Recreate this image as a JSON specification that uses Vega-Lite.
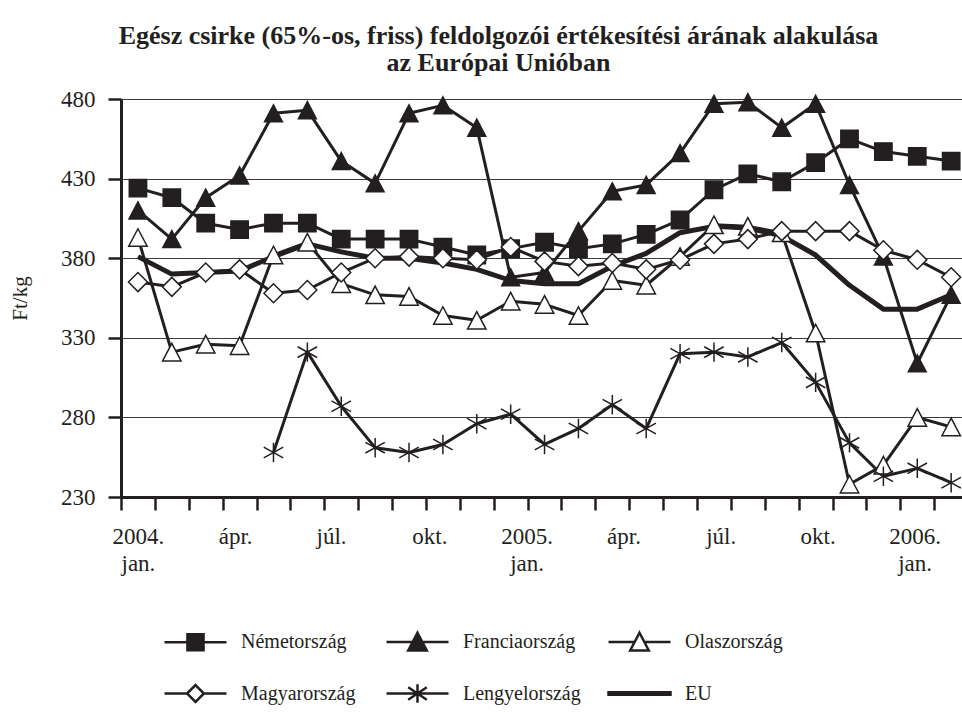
{
  "$schema": "https://vega.github.io/schema/vega-lite/v6.json",
  "width": 841,
  "height": 398,
  "autosize": "none",
  "padding": {"left": 121, "top": 99, "right": 0, "bottom": 215},
  "background": "white",
  "config": {
    "view": {"stroke": null},
    "font": "Liberation Serif"
  },
  "title": {
    "text": ["Egész csirke (65%-os, friss) feldolgozói értékesítési árának alakulása", "az Európai Unióban"],
    "font": "Liberation Serif",
    "fontSize": 26,
    "fontWeight": "bold",
    "color": "#231f20",
    "anchor": "middle",
    "dx": -43,
    "offset": 12,
    "lineHeight": 27
  },
  "data": {
    "values": [
      {"i": 0, "Németország": 424, "Franciaország": 410, "Olaszország": 393, "Magyarország": 365, "EU": 381},
      {"i": 1, "Németország": 418, "Franciaország": 392, "Olaszország": 321, "Magyarország": 362, "EU": 370},
      {"i": 2, "Németország": 402, "Franciaország": 418, "Olaszország": 326, "Magyarország": 371, "EU": 371},
      {"i": 3, "Németország": 398, "Franciaország": 432, "Olaszország": 325, "Magyarország": 373, "EU": 372},
      {"i": 4, "Németország": 402, "Franciaország": 471, "Olaszország": 382, "Magyarország": 358, "Lengyelország": 258, "EU": 381},
      {"i": 5, "Németország": 402, "Franciaország": 473, "Olaszország": 390, "Magyarország": 360, "Lengyelország": 321, "EU": 389},
      {"i": 6, "Németország": 392, "Franciaország": 441, "Olaszország": 364, "Magyarország": 371, "Lengyelország": 287, "EU": 384},
      {"i": 7, "Németország": 392, "Franciaország": 427, "Olaszország": 357, "Magyarország": 380, "Lengyelország": 261, "EU": 380},
      {"i": 8, "Németország": 392, "Franciaország": 471, "Olaszország": 356, "Magyarország": 381, "Lengyelország": 258, "EU": 380},
      {"i": 9, "Németország": 387, "Franciaország": 476, "Olaszország": 344, "Magyarország": 380, "Lengyelország": 263, "EU": 377},
      {"i": 10, "Németország": 382, "Franciaország": 462, "Olaszország": 341, "Magyarország": 379, "Lengyelország": 276, "EU": 373},
      {"i": 11, "Németország": 386, "Franciaország": 368, "Olaszország": 353, "Magyarország": 387, "Lengyelország": 282, "EU": 366},
      {"i": 12, "Németország": 390, "Franciaország": 371, "Olaszország": 351, "Magyarország": 378, "Lengyelország": 263, "EU": 364},
      {"i": 13, "Németország": 386, "Franciaország": 397, "Olaszország": 344, "Magyarország": 375, "Lengyelország": 273, "EU": 364},
      {"i": 14, "Németország": 389, "Franciaország": 422, "Olaszország": 366, "Magyarország": 377, "Lengyelország": 288, "EU": 375},
      {"i": 15, "Németország": 395, "Franciaország": 426, "Olaszország": 363, "Magyarország": 373, "Lengyelország": 273, "EU": 383},
      {"i": 16, "Németország": 404, "Franciaország": 446, "Olaszország": 381, "Magyarország": 379, "Lengyelország": 320, "EU": 396},
      {"i": 17, "Németország": 423, "Franciaország": 477, "Olaszország": 401, "Magyarország": 389, "Lengyelország": 321, "EU": 400},
      {"i": 18, "Németország": 433, "Franciaország": 478, "Olaszország": 400, "Magyarország": 392, "Lengyelország": 318, "EU": 399},
      {"i": 19, "Németország": 428, "Franciaország": 462, "Olaszország": 396, "Magyarország": 397, "Lengyelország": 327, "EU": 394},
      {"i": 20, "Németország": 440, "Franciaország": 477, "Olaszország": 333, "Magyarország": 397, "Lengyelország": 302, "EU": 382},
      {"i": 21, "Németország": 455, "Franciaország": 426, "Olaszország": 238, "Magyarország": 397, "Lengyelország": 264, "EU": 363},
      {"i": 22, "Németország": 447, "Franciaország": 381, "Olaszország": 250, "Magyarország": 385, "Lengyelország": 243, "EU": 348},
      {"i": 23, "Németország": 444, "Franciaország": 314, "Olaszország": 280, "Magyarország": 379, "Lengyelország": 248, "EU": 348},
      {"i": 24, "Németország": 441, "Franciaország": 357, "Olaszország": 274, "Magyarország": 368, "Lengyelország": 239, "EU": 357}
    ]
  },
  "transform": [
    {"fold": ["Németország", "Franciaország", "Olaszország", "Magyarország", "Lengyelország", "EU"], "as": ["c", "v"]},
    {"filter": "isValid(datum.v)"}
  ],
  "encoding": {
    "x": {"field": "i", "type": "quantitative", "scale": {"domain": [-0.5, 24.32], "nice": false, "zero": false}},
    "y": {"field": "v", "type": "quantitative", "scale": {"domain": [230, 480], "nice": false, "zero": false}}
  },
  "resolve": {
    "axis": {"x": "independent"},
    "scale": {"shape": "independent", "fill": "independent"},
    "legend": {"shape": "independent", "fill": "independent"}
  },
  "layer": [
    {
      "transform": [{"filter": "datum.c == 'EU'"}],
      "mark": {"type": "line", "stroke": "#231f20", "strokeWidth": 5, "strokeJoin": "round"},
      "encoding": {
        "x": {
          "field": "i", "type": "quantitative",
          "axis": {
            "values": [-0.5, 0.5, 1.5, 2.5, 3.5, 4.5, 5.5, 6.5, 7.5, 8.5, 9.5, 10.5, 11.5, 12.5, 13.5, 14.5, 15.5, 16.5, 17.5, 18.5, 19.5, 20.5, 21.5, 22.5, 23.5],
            "labels": false, "grid": false, "title": null,
            "domain": true, "domainColor": "#231f20", "domainWidth": 3,
            "ticks": true, "tickSize": 13, "tickWidth": 2.5, "tickColor": "#231f20"
          }
        },
        "y": {
          "field": "v", "type": "quantitative",
          "axis": {
            "values": [230, 280, 330, 380, 430, 480],
            "title": "Ft/kg", "titleFont": "Liberation Serif", "titleFontSize": 21, "titleFontWeight": "normal", "titleColor": "#231f20", "titlePadding": 30,
            "labelFont": "Liberation Serif", "labelFontSize": 23, "labelColor": "#231f20", "labelPadding": 13,
            "grid": true, "gridColor": "#3a3a3a", "gridWidth": 1.2,
            "domain": true, "domainColor": "#231f20", "domainWidth": 3,
            "ticks": true, "tickSize": 13, "tickWidth": 2.5, "tickColor": "#231f20"
          }
        }
      }
    },
    {
      "transform": [{"filter": "datum.c != 'EU'"}],
      "mark": {"type": "line", "stroke": "#231f20", "strokeWidth": 3, "strokeJoin": "round"},
      "encoding": {
        "detail": {"field": "c"},
        "x": {"field": "i", "type": "quantitative", "axis": null}
      }
    },
    {
      "transform": [{"filter": "datum.c != 'EU'"}],
      "mark": {"type": "point", "filled": true, "stroke": "#231f20", "strokeWidth": 1.5, "opacity": 1},
      "encoding": {
        "x": {"field": "i", "type": "quantitative", "axis": null},
        "shape": {
          "field": "c", "type": "nominal", "legend": null,
          "scale": {
            "domain": ["Németország", "Franciaország", "Olaszország", "Magyarország", "Lengyelország", "EU"],
            "range": ["square", "M0,-0.95L1,0.95L-1,0.95Z", "M0,-0.95L1,0.95L-1,0.95Z", "diamond", "M0,-1V1M-1,-0.55L1,0.55M-1,0.55L1,-0.55", "circle"]
          }
        },
        "fill": {
          "field": "c", "type": "nominal", "legend": null,
          "scale": {
            "domain": ["Németország", "Franciaország", "Olaszország", "Magyarország", "Lengyelország", "EU"],
            "range": ["#231f20", "#231f20", "#ffffff", "#ffffff", "rgba(0,0,0,0)", "#231f20"]
          }
        },
        "size": {
          "field": "c", "type": "nominal", "legend": null,
          "scale": {
            "domain": ["Németország", "Franciaország", "Olaszország", "Magyarország", "Lengyelország", "EU"],
            "range": [300, 400, 400, 330, 441, 100]
          }
        }
      }
    },
    {
      "mark": {"type": "point", "filled": true, "opacity": 0, "stroke": "#231f20", "strokeWidth": 2.5},
      "encoding": {
        "x": {
          "field": "i", "type": "quantitative",
          "axis": {
            "orient": "bottom",
            "values": [0, 2.87, 5.7, 8.6, 11.47, 14.33, 17.2, 20.06, 22.92],
            "labelExpr": "datum.value < 1 ? ['2004.', 'jan.'] : datum.value < 4 ? 'ápr.' : datum.value < 7 ? 'júl.' : datum.value < 10 ? 'okt.' : datum.value < 13 ? ['2005.', 'jan.'] : datum.value < 16 ? 'ápr.' : datum.value < 19 ? 'júl.' : datum.value < 21 ? 'okt.' : ['2006.', 'jan.']",
            "labelFont": "Liberation Serif", "labelFontSize": 23, "labelColor": "#231f20",
            "labelPadding": 28, "labelBaseline": "top", "labelLineHeight": 27, "labelAngle": 0,
            "labelAlign": "center", "labelOverlap": false, "labelBound": false, "labelFlush": false,
            "domain": false, "ticks": false, "grid": false, "title": null
          }
        },
        "shape": {
          "field": "c", "type": "nominal",
          "scale": {
            "domain": ["Németország", "Franciaország", "Olaszország", "Magyarország", "Lengyelország", "EU"],
            "range": [
              "M-1,0H1M-0.26,-0.26H0.26V0.26H-0.26Z",
              "M-1,0H1M0,-0.3L0.3,0.27L-0.3,0.27Z",
              "M-1,0H-0.16M0.16,0H1M0,-0.3L0.3,0.27L-0.3,0.27Z",
              "M-1,0H-0.27M0.27,0H1M-0.27,0L0,-0.27L0.27,0L0,0.27Z",
              "M-1,0H1M0,-0.3V0.3M-0.3,-0.2L0.3,0.2M-0.3,0.2L0.3,-0.2",
              "M-1,-0.04H1V0.04H-1Z"
            ]
          },
          "legend": {
            "title": null, "orient": "none", "legendX": 42, "legendY": 510, "direction": "horizontal",
            "columns": 3, "gridAlign": "all", "columnPadding": 22, "rowPadding": 5,
            "symbolSize": 3844, "symbolStrokeWidth": 2.5, "symbolStrokeColor": "#231f20",
            "labelOffset": 13, "labelFont": "Liberation Serif", "labelFontSize": 20, "labelColor": "#231f20", "labelLimit": 300,
            "padding": 0,
            "encode": {"symbols": {"update": {"opacity": {"value": 1}, "stroke": {"value": "#231f20"}, "strokeWidth": {"value": 2.5}}}}
          }
        },
        "fill": {
          "field": "c", "type": "nominal",
          "scale": {
            "domain": ["Németország", "Franciaország", "Olaszország", "Magyarország", "Lengyelország", "EU"],
            "range": ["#231f20", "#231f20", "#ffffff", "#ffffff", "rgba(0,0,0,0)", "#231f20"]
          },
          "legend": {
            "title": null, "orient": "none", "legendX": 42, "legendY": 510, "direction": "horizontal",
            "columns": 3, "gridAlign": "all", "columnPadding": 22, "rowPadding": 5,
            "symbolSize": 3844, "symbolStrokeWidth": 2.5, "symbolStrokeColor": "#231f20",
            "labelOffset": 13, "labelFont": "Liberation Serif", "labelFontSize": 20, "labelColor": "#231f20", "labelLimit": 300,
            "padding": 0,
            "encode": {"symbols": {"update": {"opacity": {"value": 1}, "stroke": {"value": "#231f20"}, "strokeWidth": {"value": 2.5}}}}
          }
        }
      }
    }
  ]
}
